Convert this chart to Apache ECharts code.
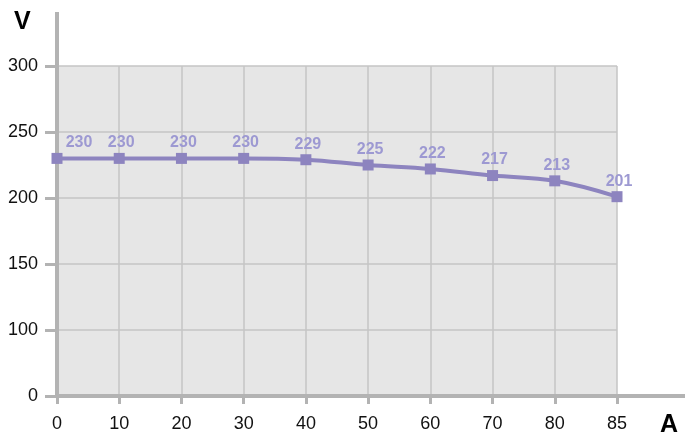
<!DOCTYPE html>
<html>
<head>
<meta charset="utf-8">
<script src="https://cdn.jsdelivr.net/npm/echarts@6/dist/echarts.min.js"></script>
<style>
  html, body { margin: 0; padding: 0; background: #fff; }
  #chart { width: 685px; height: 437px; }
</style>
</head>
<body>
<div id="chart"></div>
<script>
// current steps (A) and measured voltage (V)
const categories = ['0', '10', '20', '30', '40', '50', '60', '70', '80', '85'];
const voltage = [230, 230, 230, 230, 229, 225, 222, 217, 213, 201];
// the original axis is broken between 0 and 100: bottom slot is labelled 0
const yTickValues = [50, 100, 150, 200, 250, 300];
const yTickLabels = ['0', '100', '150', '200', '250', '300'];

const font = "'Liberation Sans', Arial, sans-serif";
const axisGray = '#b3b3b3';
const gridGray = '#c4c4c4';

document.addEventListener("DOMContentLoaded", () => {
    const chart = echarts.init(document.querySelector("#chart"));
    chart.setOption({
        animation: false,
        grid: {
            left: 57,
            right: 68,
            top: 66,
            bottom: 41,
            show: true,
            backgroundColor: '#e6e6e6',
            borderWidth: 0
        },
        xAxis: {
            type: 'category',
            data: categories,
            boundaryGap: false,
            axisLine: { lineStyle: { color: axisGray, width: 4 } },
            axisTick: { length: 8, lineStyle: { color: axisGray, width: 3 } },
            axisLabel: { color: '#111', fontFamily: font, fontSize: 18, margin: 19 },
            splitLine: { show: true, lineStyle: { color: gridGray, width: 1.5 } }
        },
        yAxis: {
            type: 'value',
            min: 50,
            max: 300,
            interval: 50,
            axisLine: { show: true, lineStyle: { color: axisGray, width: 4 } },
            axisTick: { show: true, length: 12, lineStyle: { color: axisGray, width: 3 } },
            axisLabel: {
                color: '#111',
                fontFamily: font,
                fontSize: 18,
                margin: 19,
                formatter: v => yTickLabels[yTickValues.indexOf(v)]
            },
            splitLine: { show: true, lineStyle: { color: gridGray, width: 1.5 } }
        },
        series: [{
            type: 'line',
            data: voltage.map((v, i) => ({
                value: v,
                label: { offset: i === 0 ? [22, 0] : [2, 0] }
            })),
            smooth: 0.4,
            symbol: 'rect',
            symbolSize: 11,
            color: '#8d84bf',
            lineStyle: { width: 4, color: '#8d84bf' },
            label: {
                show: true,
                position: 'top',
                distance: 2,
                color: '#9d99d2',
                fontFamily: font,
                fontWeight: 'bold',
                fontSize: 16
            }
        }],
        graphic: [
            // axis lines run on past the plot area
            { type: 'line', shape: { x1: 57, y1: 12, x2: 57, y2: 66 }, style: { stroke: axisGray, lineWidth: 4 } },
            { type: 'line', shape: { x1: 617, y1: 396, x2: 685, y2: 396 }, style: { stroke: axisGray, lineWidth: 4 } },
            { type: 'text', left: 14, top: 10, style: { text: 'V', fill: '#000', font: "bold 25px 'Liberation Sans', Arial, sans-serif" } },
            { type: 'text', left: 660, top: 413, style: { text: 'A', fill: '#000', font: "bold 25px 'Liberation Sans', Arial, sans-serif" } }
        ]
    });
});
</script>
</body>
</html>
